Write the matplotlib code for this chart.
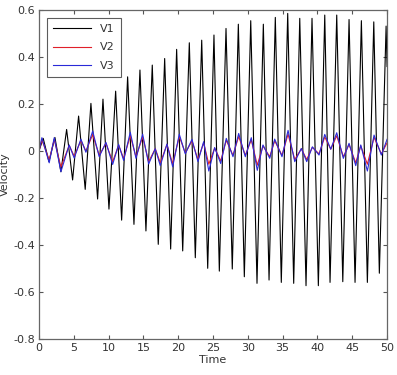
import numpy as np
import matplotlib
matplotlib.use('Agg')
import matplotlib.pyplot as plt

# V1 extrema (time, velocity)
t_v1 = [0.0, 0.62, 1.44, 2.30, 3.16, 3.98, 4.84, 5.70, 6.65, 7.47, 8.43, 9.20,
        10.06, 11.02, 11.88, 12.74, 13.65, 14.51, 15.37, 16.28, 17.14, 18.06,
        18.92, 19.78, 20.65, 21.60, 22.46, 23.38, 24.24, 25.14, 25.91, 26.87,
        27.77, 28.64, 29.50, 30.42, 31.32, 32.23, 33.05, 33.95, 34.81, 35.73,
        36.59, 37.46, 38.36, 39.22, 40.13, 41.05, 41.81, 42.77, 43.64, 44.54,
        45.40, 46.31, 47.17, 48.09, 48.89, 49.86, 50.0]
v1 = [0.0, 0.054, -0.045, 0.058, -0.088, 0.092, -0.123, 0.149, -0.163, 0.203,
      -0.204, 0.221, -0.247, 0.255, -0.294, 0.316, -0.312, 0.345, -0.340, 0.366,
      -0.397, 0.394, -0.417, 0.433, -0.425, 0.461, -0.454, 0.472, -0.499, 0.494,
      -0.511, 0.522, -0.502, 0.540, -0.535, 0.555, -0.563, 0.540, -0.549, 0.569,
      -0.559, 0.586, -0.563, 0.565, -0.573, 0.565, -0.573, 0.579, -0.559, 0.579,
      -0.556, 0.560, -0.559, 0.555, -0.559, 0.550, -0.520, 0.532, 0.36]

# V2 / V3 extrema (time, velocity)
t_v23 = [0.0, 0.43, 1.48, 2.20, 3.16, 4.35, 5.07, 6.03, 6.75, 7.72, 8.66, 9.63,
         10.59, 11.45, 12.17, 13.12, 13.94, 14.90, 15.76, 16.71, 17.43, 18.39,
         19.21, 20.16, 21.02, 21.98, 22.84, 23.66, 24.40, 25.24, 26.11, 26.91,
         27.87, 28.69, 29.64, 30.50, 31.36, 32.18, 33.15, 33.86, 34.91, 35.78,
         36.74, 37.69, 38.46, 39.27, 40.23, 41.05, 41.91, 42.77, 43.72, 44.54,
         45.50, 46.22, 47.17, 48.13, 49.18, 50.0]
v2 = [0.0, 0.048, -0.038, 0.050, -0.068, 0.024, -0.022, 0.045, 0.000, 0.070,
      -0.018, 0.033, -0.045, 0.025, -0.032, 0.065, -0.024, 0.060, -0.045, 0.010,
      -0.050, 0.028, -0.054, 0.062, -0.008, 0.043, -0.036, 0.035, -0.056, 0.013,
      -0.042, 0.046, -0.018, 0.062, -0.018, 0.048, -0.060, 0.022, -0.024, 0.044,
      -0.018, 0.072, -0.036, 0.010, -0.036, 0.016, -0.012, 0.060, 0.008, 0.065,
      -0.024, 0.028, -0.050, 0.022, -0.056, 0.058, -0.012, 0.035]
v3 = [0.0, 0.057, -0.050, 0.057, -0.088, 0.026, -0.030, 0.051, -0.005, 0.085,
      -0.024, 0.037, -0.057, 0.028, -0.040, 0.080, -0.031, 0.072, -0.055, 0.010,
      -0.062, 0.030, -0.067, 0.072, -0.012, 0.050, -0.045, 0.040, -0.085, 0.015,
      -0.053, 0.054, -0.024, 0.075, -0.024, 0.057, -0.082, 0.026, -0.031, 0.051,
      -0.024, 0.088, -0.045, 0.011, -0.045, 0.018, -0.017, 0.071, 0.008, 0.078,
      -0.031, 0.033, -0.062, 0.026, -0.085, 0.068, -0.017, 0.050]

fig = plt.figure(figsize=(3.97, 3.75), dpi=100)
ax = fig.add_axes([0.098, 0.096, 0.877, 0.877])

ax.plot(t_v1, v1, color='black', lw=0.8, label='V1')
ax.plot(t_v23, v2, color='#e0202a', lw=0.8, label='V2')
ax.plot(t_v23, v3, color='#2a2ad8', lw=0.8, label='V3')

ax.set_xlim(0, 50)
ax.set_ylim(-0.8, 0.6)
ax.set_xticks(np.arange(0, 51, 5))
ax.set_yticks(np.arange(-0.8, 0.61, 0.2))
ax.set_yticklabels(['-0.8', '-0.6', '-0.4', '-0.2', '0', '0.2', '0.4', '0.6'])
ax.tick_params(direction='in', top=True, right=True, length=3, width=0.8,
               labelsize=8, colors='#555555', labelcolor='#333333', pad=3)
for s in ax.spines.values():
    s.set_color('#666666')
    s.set_linewidth(0.9)

ax.set_xlabel('Time', fontsize=8, color='#333333', labelpad=1)
ax.set_ylabel('Velocity', fontsize=8, color='#333333', labelpad=2)

leg = ax.legend(loc='upper left', fontsize=8, frameon=True, fancybox=False,
                handlelength=3.4, borderpad=0.55, labelspacing=0.75,
                bbox_to_anchor=(0.008, 0.993))
leg.get_frame().set_edgecolor('#333333')
leg.get_frame().set_linewidth(0.8)
for txt in leg.get_texts():
    txt.set_color('#333333')

fig.savefig('out.png', dpi=100)
